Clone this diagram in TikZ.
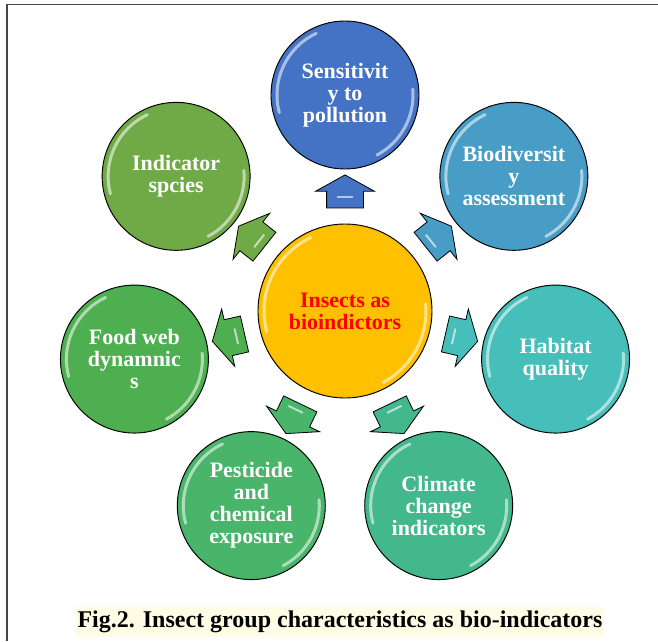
\documentclass[tikz,border=0pt]{standalone}
\usepackage{fontspec}
\setmainfont{Liberation Serif}
\usetikzlibrary{shapes.arrows,calc,positioning}

\definecolor{cHub}{RGB}{255,192,0}
\definecolor{cSens}{RGB}{68,114,196}
\definecolor{cBio}{RGB}{72,157,198}
\definecolor{cHab}{RGB}{70,190,185}
\definecolor{cClim}{RGB}{67,184,141}
\definecolor{cPest}{RGB}{72,181,106}
\definecolor{cFood}{RGB}{78,175,80}
\definecolor{cInd}{RGB}{112,170,71}
\definecolor{capbg}{RGB}{255,252,230}
\definecolor{framegray}{RGB}{70,70,70}

\begin{document}
\begin{tikzpicture}[x=1pt, y=1pt,
    gloss/.style={path picture={
        \draw[black, opacity=0.12, line width=6pt] (path picture bounding box.center) circle [radius=#1pt+8pt];
        \draw[white, opacity=0.55, line width=3pt, line cap=round] ($(path picture bounding box.center)+(115:#1pt)$) arc (115:195:#1pt);
        \draw[white, opacity=0.55, line width=3pt, line cap=round] ($(path picture bounding box.center)+(-62:#1pt)$) arc (-62:5:#1pt);}},
    bubble/.style={circle, draw=black, line width=0.9pt, minimum size=148pt, inner sep=0pt, align=center, text=white, font=\fontsize{22}{22}\selectfont\bfseries, gloss=68},
    hub/.style={bubble, minimum size=174pt, fill=cHub, text=red, gloss=81},
    pointer/.style={single arrow, draw=black, line width=0.8pt, minimum height=33pt, inner xsep=0pt, inner ysep=18pt, single arrow head extend=11pt, single arrow tip angle=122,
        path picture={\draw[white, opacity=0.6, line width=2pt] ($(path picture bounding box.center)+(-6pt,-8pt)$) -- ++(0,16pt);}},
    caption/.style={fill=capbg, font=\fontsize{24}{24}\selectfont\bfseries, inner xsep=2pt, inner ysep=4pt}
]
\useasboundingbox (-345,-330) rectangle (313,311);

% frame round the figure
\draw[framegray, line width=1.6pt] (-338,-330) |- (313,306.5);

% centre and the seven characteristics
\node[hub] (hub) at (0,0) {Insects as\\bioindictors};
\node[bubble, fill=cSens] (sens) at (90:216) {Sensitivit\\y to\\pollution};
\node[bubble, fill=cBio] (bio) at (38.57:216) {Biodiversit\\y\\assessment};
\node[bubble, fill=cHab] (hab) at (-12.86:216) {Habitat\\quality};
\node[bubble, fill=cClim] (clim) at (-64.29:216) {Climate\\change\\indicators};
\node[bubble, fill=cPest] (pest) at (-115.71:216) {Pesticide\\and\\chemical\\exposure};
\node[bubble, fill=cFood] (food) at (-167.14:216) {Food web\\dynamnic\\s};
\node[bubble, fill=cInd] (ind) at (141.43:216) {Indicator\\spcies};

% block arrows from the centre outwards
\node[pointer, fill=cSens, rotate=90] (toSens) at ($(hub)!0.53!(sens)$) {};
\node[pointer, fill=cBio, rotate=38.57] (toBio) at ($(hub)!0.53!(bio)$) {};
\node[pointer, fill=cHab, rotate=-12.86] (toHab) at ($(hub)!0.53!(hab)$) {};
\node[pointer, fill=cClim, rotate=-64.29] (toClim) at ($(hub)!0.53!(clim)$) {};
\node[pointer, fill=cPest, rotate=-115.71] (toPest) at ($(hub)!0.53!(pest)$) {};
\node[pointer, fill=cFood, rotate=-167.14] (toFood) at ($(hub)!0.53!(food)$) {};
\node[pointer, fill=cInd, rotate=141.43] (toInd) at ($(hub)!0.53!(ind)$) {};

% caption
\node[caption] (cap) at (-5,-311) {Fig.2. Insect group characteristics as bio-indicators};

\end{tikzpicture}
\end{document}
